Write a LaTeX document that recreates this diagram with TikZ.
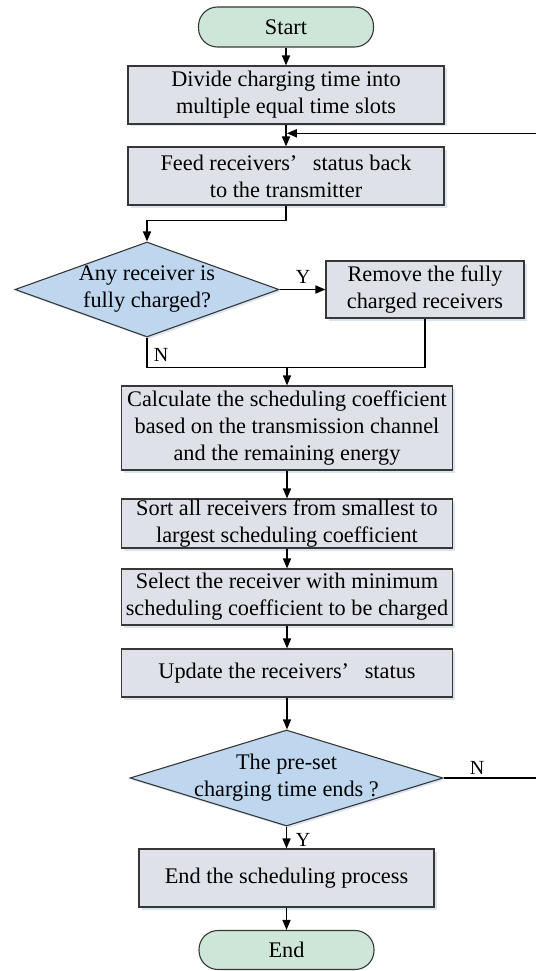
\documentclass[tikz,border=0pt]{standalone}
\usepackage{fontspec}
\setmainfont{Liberation Serif}
\usetikzlibrary{shapes.geometric,arrows.meta,positioning,calc,shadows}

\definecolor{boxgray}{RGB}{222,226,232}
\definecolor{decblue}{RGB}{190,215,238}
\definecolor{termgreen}{RGB}{206,230,215}
\definecolor{shadeblue}{RGB}{218,228,242}
\definecolor{edgegray}{RGB}{55,55,55}

\tikzset{
  procbox/.style={draw=edgegray, line width=1.1pt, fill=boxgray, align=center, inner sep=0pt,
    drop shadow={shadow xshift=2.5pt, shadow yshift=-2.5pt, fill=shadeblue, opacity=1}},
  termbox/.style={draw=edgegray, line width=1.1pt, fill=termgreen, rounded corners=19pt,
    minimum width=175pt, minimum height=40pt, inner sep=0pt},
  decision/.style={diamond, draw=edgegray, line width=1.1pt, fill=decblue, inner sep=0pt,
    drop shadow={shadow xshift=2pt, shadow yshift=-2pt, fill=shadeblue, opacity=1}},
  flowline/.style={line width=1.6pt, black},
  flowarrow/.style={flowline, -{Triangle[length=10pt,width=8pt]}},
  yn/.style={font=\fontsize{20}{24}\selectfont, inner sep=0pt}
}

\begin{document}
\begin{tikzpicture}[x=1pt, y=-1pt, font=\fontsize{22.3}{27}\selectfont]
    \useasboundingbox (0,0) rectangle (535,971);

    % Start
    \node[termbox] (start) at (286,27) {Start};

    % time slots
    \node[procbox, minimum width=316pt, minimum height=58pt] (divide) at (286,95)
        {Divide charging time into\\multiple equal time slots};
    \node[procbox, minimum width=316pt, minimum height=58pt] (feed) at (286,176)
        {Feed receivers’\hspace{0.7em}status back\\to the transmitter};

    % fully charged check
    \node[decision, minimum width=264pt, minimum height=95pt,
          label={[align=center]center:Any receiver is\\fully charged?}] (any) at (147,289.5) {};
    \node[procbox, minimum width=198pt, minimum height=57pt] (remove) at (425,289.5)
        {Remove the fully\\charged receivers};

    % scheduling steps
    \node[procbox, minimum width=331pt, minimum height=84pt] (calc) at (287,428)
        {Calculate the scheduling coefficient\\based on the transmission channel\\and the remaining energy};
    \node[procbox, minimum width=331pt, minimum height=49pt] (sort) at (287,523.5)
        {Sort all receivers from smallest to\\largest scheduling coefficient};
    \node[procbox, minimum width=331pt, minimum height=56pt] (select) at (287,597)
        {Select the receiver with minimum\\scheduling coefficient to be charged};
    \node[procbox, minimum width=331pt, minimum height=48pt] (update) at (287,673)
        {Update the receivers’\hspace{0.7em}status};

    % end check
    \node[decision, minimum width=313pt, minimum height=96pt,
          label={[align=center]center:The pre-set\\charging time ends ?}] (preset) at (286.5,778) {};
    \node[procbox, minimum width=295pt, minimum height=58pt] (endproc) at (286.5,878)
        {End the scheduling process};

    % End
    \node[termbox, minimum height=39pt] (stop) at (286.5,950) {End};

    % Y / N labels
    \node[yn] (yremove) at (303,277) {Y};
    \node[yn] (nremove) at (161,355) {N};
    \node[yn] (nloop) at (477,768) {N};
    \node[yn] (yend) at (303,840) {Y};

    % connectors
    \draw[flowarrow] (start) -- (divide);
    \draw[flowarrow] (divide) -- (feed);
    \draw[flowarrow] (feed.south) -- ++(0,15) -| (any.north);
    \draw[flowarrow] (any.east) -- (remove.west);
    \draw[flowline] (any.south) -- ++(0,30) coordinate (join) -| (remove.south);
    \draw[flowarrow] (calc.north |- join) -- (calc.north);
    \draw[flowarrow] (calc) -- (sort);
    \draw[flowarrow] (sort) -- (select);
    \draw[flowarrow] (select) -- (update);
    \draw[flowarrow] (update.south) -- (update.south |- preset.north);
    \draw[flowarrow] (preset.south) -- (preset.south |- endproc.north);
    \draw[flowarrow] (endproc.south) -- (endproc.south |- stop.north);

    % back to feedback step
    \coordinate (back) at ($(divide.south)!0.4!(feed.north)$);
    \draw[flowarrow, shorten >=0.8pt] (preset.east) -- (540,778) |- (back);
\end{tikzpicture}
\end{document}
